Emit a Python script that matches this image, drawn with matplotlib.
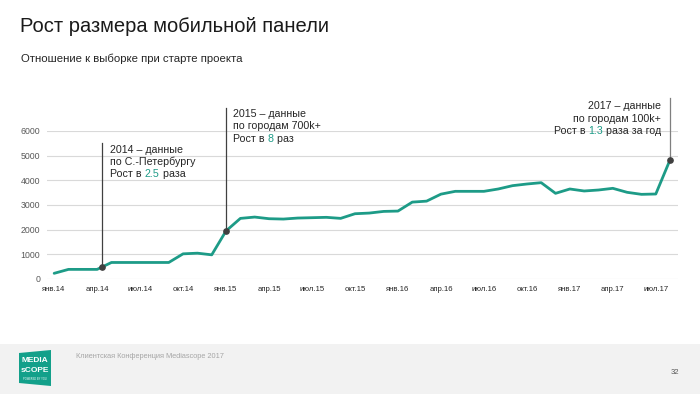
import matplotlib
matplotlib.use("Agg")
import matplotlib.pyplot as plt
import matplotlib.transforms as mtransforms
from matplotlib.patches import Rectangle, Polygon

# Monthly panel size, Jan 2014 .. Aug 2017
panel_size = [230, 390, 390, 390, 670, 670, 670, 670, 670, 1020, 1047, 980,
              1950, 2457, 2511, 2444, 2430, 2471, 2485, 2500, 2458, 2646, 2673, 2740,
              2754, 3117, 3157, 3440, 3554, 3554, 3554, 3649, 3784, 3851, 3905, 3473,
              3649, 3568, 3608, 3676, 3514, 3432, 3446, 4838]
month_idx = list(range(len(panel_size)))
tick_labels = ["янв.14", "апр.14", "июл.14", "окт.14", "янв.15", "апр.15", "июл.15",
               "окт.15", "янв.16", "апр.16", "июл.16", "окт.16", "янв.17", "апр.17", "июл.17"]
y_ticks = [0, 1000, 2000, 3000, 4000, 5000, 6000]

title = "Рост размера мобильной панели"
subtitle = "Отношение к выборке при старте проекта"
footer = "Клиентская Конференция Mediascope 2017"
page_no = "32"

TEAL = "#1d9b87"
FONT = "Liberation Sans"
plt.rcParams["font.family"] = [FONT, "DejaVu Sans"]

W, H = 700, 394
fig = plt.figure(figsize=(W / 100, H / 100), dpi=100)
fig.patch.set_facecolor("white")

def py(p):
    # figure fraction from a pixel row measured from the top
    return 1 - p / H

ax = fig.add_axes([47 / W, py(279), 631 / W, 148 / H])
ax.plot(month_idx, panel_size, color=TEAL, lw=2.0, zorder=3, solid_capstyle="round")
ax.set_xlim(-0.5, len(panel_size) - 0.45)
ax.set_ylim(0, 6000)
ax.set_yticks(y_ticks)
ax.set_yticklabels([str(v) for v in y_ticks], fontsize=6.3, color="#595959")
ax.set_xticks(month_idx[::3])
ax.set_xticklabels(tick_labels, fontsize=5.6, color="#262626")
ax.tick_params(length=0)
ax.tick_params(axis="y", pad=5)
ax.tick_params(axis="x", pad=5)
ax.grid(axis="y", color="#d9d9d9", lw=0.8)
ax.set_axisbelow(True)
for s in ax.spines.values():
    s.set_visible(False)
ax.patch.set_alpha(0)

renderer = fig.canvas.get_renderer()

def text_width(s, size):
    t = fig.text(0, 0, s + "x", fontsize=size)
    t2 = fig.text(0, 0, "x", fontsize=size)
    w = t.get_window_extent(renderer).width - t2.get_window_extent(renderer).width
    t.remove()
    t2.remove()
    return w

def rich_line(x, y, dx, parts, size=7.7, ha="left"):
    total = sum(text_width(s, size) for s, _ in parts)
    start = dx if ha == "left" else dx - total
    for s, c in parts:
        tr = mtransforms.offset_copy(ax.transData, fig=fig, x=start, y=0, units="dots")
        ax.text(x, y, s, transform=tr, fontsize=size, color=c, ha="left",
                va="baseline", clip_on=False)
        start += text_width(s, size)

# annotations: (month position, line top, text x offset px, baselines, lines, align, line colour)
notes = [
    (3.35, 5526, 8, [5120, 4620, 4150],
     [[("2014 – данные", "#262626")], [("по С.-Петербургу", "#262626")],
      [("Рост в ", "#262626"), ("2.5", TEAL), (" раза", "#262626")]], "left", "#404040"),
    (12, 6932, 7, [6555, 6080, 5566],
     [[("2015 – данные", "#262626")], [("по городам 700k+", "#262626")],
      [("Рост в ", "#262626"), ("8", TEAL), (" раз", "#262626")]], "left", "#404040"),
    (43, 7338, -9, [6880, 6365, 5866],
     [[("2017 – данные", "#262626")], [("по городам 100k+", "#262626")],
      [("Рост в ", "#262626"), ("1.3", TEAL), (" раза за год", "#262626")]], "right", "#7f7f7f"),
]
for xm, top, dx, bases, lines, ha, lc in notes:
    i0 = int(xm)
    i1 = min(i0 + 1, len(panel_size) - 1)
    ym = panel_size[i0] + (panel_size[i1] - panel_size[i0]) * (xm - i0)
    ax.plot([xm, xm], [ym, top], color=lc, lw=0.9, clip_on=False, zorder=4)
    ax.plot([xm], [ym], "o", color="#404040", ms=3.8, clip_on=False, zorder=5)
    for b, parts in zip(bases, lines):
        rich_line(xm, b, dx, parts, ha=ha)

# titles
fig.text(20 / W, py(32.3), title, fontsize=14.5, color="#1a1a1a", va="baseline")
fig.text(21 / W, py(61.5), subtitle, fontsize=8.2, color="#262626", va="baseline")

# footer band
fig.patches.append(Rectangle((0, 0), 1, 50 / H, transform=fig.transFigure,
                             facecolor="#f2f2f2", edgecolor="none", zorder=0))
logo = [(19 / W, py(353)), (51 / W, py(350)), (51 / W, py(386)), (19 / W, py(383))]
fig.patches.append(Polygon(logo, closed=True, transform=fig.transFigure,
                           facecolor="#13a08a", edgecolor="none", zorder=1))
fig.text(35 / W, py(361), "MEDIA", fontsize=6, color="white", ha="center", va="center",
         fontweight="bold", fontstretch="condensed")
fig.text(35 / W, py(371), "sCOPE", fontsize=6, color="white", ha="center", va="center",
         fontweight="bold")
fig.text(35 / W, py(379), "POWERED BY YOU", fontsize=1.8, color="white", ha="center", va="center")
fig.text(76 / W, py(356), footer, fontsize=5.3, color="#a6a6a6", va="center")
fig.text(679 / W, py(373), page_no, fontsize=5.5, color="#595959", ha="right", va="center")

fig.savefig("out.png", dpi=100)
